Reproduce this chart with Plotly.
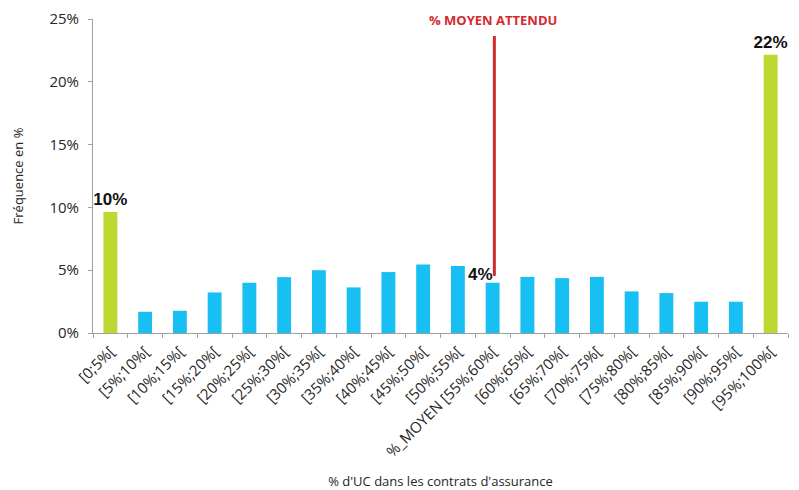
import plotly.graph_objects as go

# Share of unit-linked funds (% d'UC) per insurance contract, in 5-point buckets
categories = [
    "[0;5%[", "[5%;10%[", "[10%;15%[", "[15%;20%[", "[20%;25%[",
    "[25%;30%[", "[30%;35%[", "[35%;40%[", "[40%;45%[", "[45%;50%[",
    "[50%;55%[", "%_MOYEN [55%;60%[", "[60%;65%[", "[65%;70%[", "[70%;75%[",
    "[75%;80%[", "[80%;85%[", "[85%;90%[", "[90%;95%[", "[95%;100%[",
]
frequency = [
    9.64, 1.69, 1.77, 3.23, 4.0,
    4.45, 5.0, 3.63, 4.85, 5.45,
    5.33, 4.0, 4.47, 4.37, 4.47,
    3.31, 3.18, 2.49, 2.49, 22.15,
]
y_ticks = [0, 5, 10, 15, 20, 25]

mean_index = 11          # bucket holding the expected average share
extremes = {0, len(categories) - 1}

BLUE = "#17BFF2"
GREEN = "#BED731"
RED = "#D42A2E"
AXIS = "#A0A0A0"
TEXT = "#262626"

colors = [GREEN if i in extremes else BLUE for i in range(len(categories))]
bar_text = [f"<b>{frequency[i]:.0f}%</b>" if i in extremes else "" for i in range(len(categories))]

fig = go.Figure()
fig.add_trace(go.Bar(
    x=categories,
    y=frequency,
    marker=dict(color=colors, line=dict(width=0)),
    width=0.4,
    text=bar_text,
    textposition="outside",
    constraintext="none",
    cliponaxis=False,
    textfont=dict(family="Liberation Sans, Arial", size=17, color="#111111"),
    hoverinfo="x+y",
))

# Label of the expected-average bucket
fig.add_annotation(
    x=mean_index, y=frequency[mean_index],
    text=f"<b>{frequency[mean_index]:.0f}%</b>",
    showarrow=False, xanchor="right", yanchor="bottom",
    xshift=2, yshift=-3,
    font=dict(family="Liberation Sans, Arial", size=17, color="#111111"),
)

# Vertical marker for the expected average
fig.add_shape(
    type="line", x0=mean_index + 0.05, x1=mean_index + 0.05,
    y0=4.55, y1=23.65, xref="x", yref="y",
    line=dict(color=RED, width=3),
)
fig.add_annotation(
    x=mean_index, y=24.9, xref="x", yref="y",
    text="<b>% MOYEN ATTENDU</b>", showarrow=False,
    font=dict(family="Open Sans", size=13, color=RED),
)

fig.update_layout(
    width=799, height=490,
    margin=dict(l=93, r=11, t=19, b=157),
    paper_bgcolor="white", plot_bgcolor="white",
    showlegend=False,
    font=dict(family="Open Sans", size=12, color=TEXT),
    bargap=0.6,
)
fig.update_xaxes(
    type="category",
    automargin=False,
    tickangle=-45,
    showline=True, linecolor=AXIS, linewidth=1,
    ticks="outside", tickson="boundaries", ticklen=4, tickcolor=AXIS,
    ticklabelstandoff=3,
    showgrid=False,
    tickfont=dict(family="Open Sans", size=15, color=TEXT),
    title=dict(text="% d'UC dans les contrats d'assurance",
               font=dict(family="Open Sans", size=13, color=TEXT), standoff=26),
)
fig.update_yaxes(
    range=[0, 25],
    automargin=False,
    tickvals=y_ticks, ticktext=[f"{v}%" for v in y_ticks],
    showline=True, linecolor=AXIS, linewidth=1,
    ticks="outside", ticklen=4, tickcolor=AXIS,
    ticklabelstandoff=6,
    showgrid=False, zeroline=False,
    tickfont=dict(family="Open Sans", size=15, color=TEXT),
    title=dict(text="Fréquence en %",
               font=dict(family="Open Sans", size=13, color=TEXT), standoff=22),
)

fig.write_html("out.html")
